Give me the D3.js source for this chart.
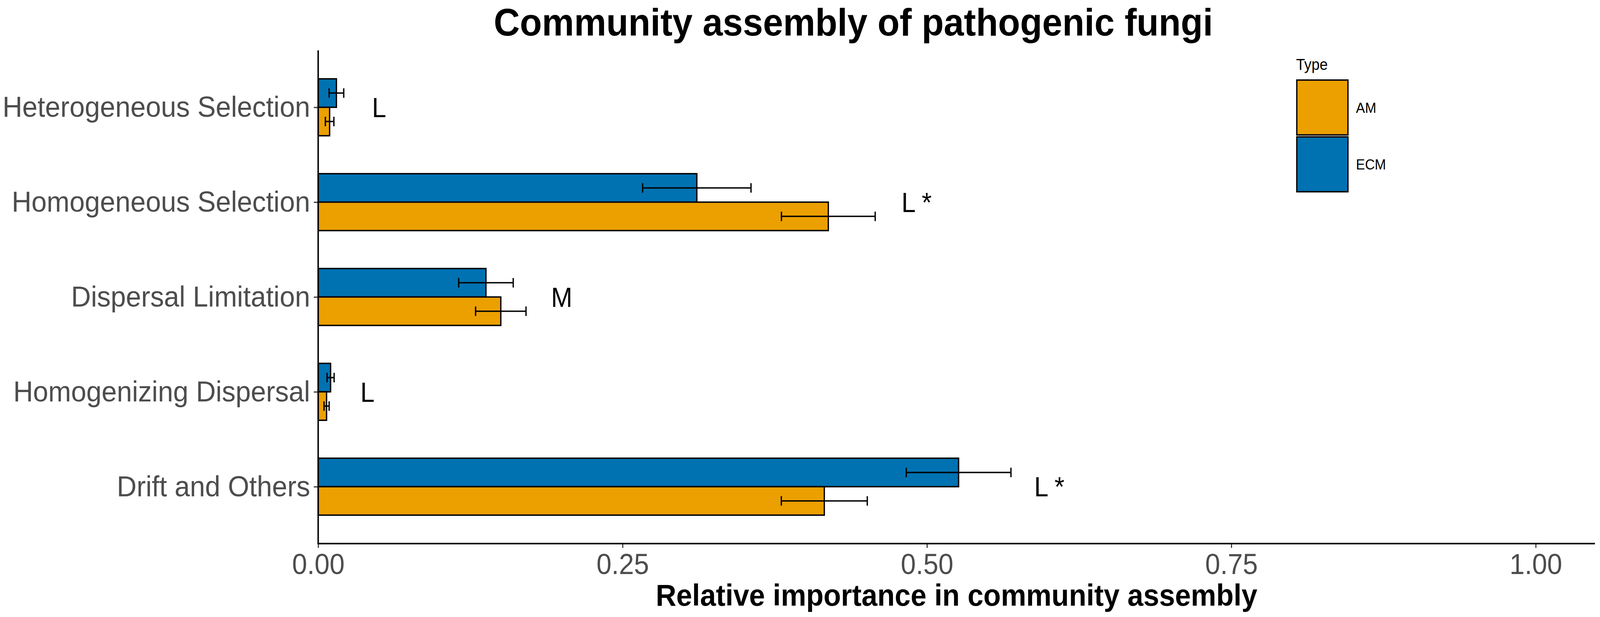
<!DOCTYPE html>
<html>
<head>
<meta charset="utf-8">
<script src="https://cdn.jsdelivr.net/npm/d3@7/dist/d3.min.js"></script>
<style>
  html, body { margin: 0; padding: 0; background: #fff; overflow: hidden; width: 100%; height: 100%; }
  svg { display: block; width: 100vw; height: 100vh; font-family: "Liberation Sans", Arial, Helvetica, sans-serif; }
</style>
</head>
<body>
<svg id="chart" viewBox="0 0 4380 1580" preserveAspectRatio="none"></svg>
<script>
// ---- data ----
const categories = ["Heterogeneous Selection", "Homogeneous Selection", "Dispersal Limitation", "Homogenizing Dispersal", "Drift and Others"];
const types = ["AM", "ECM"];
const amMean = [0.0094, 0.419, 0.150, 0.0069, 0.4157];
const amErr  = [0.0035, 0.0385, 0.0207, 0.0021, 0.0353];
const ecmMean = [0.015, 0.311, 0.1378, 0.0102, 0.526];
const ecmErr  = [0.006, 0.0445, 0.0224, 0.0029, 0.043];
const sigLabels = ["L", "L *", "M", "L", "L *"];
const sigLabelX = [0.050, 0.4915, 0.200, 0.0405, 0.6005];
const xTicks = [0, 0.25, 0.5, 0.75, 1.0];
const xDomain = [0, 1.0486];

const colors = { AM: "#EBA000", ECM: "#0072B2" };

// ---- layout ----
const svg = d3.select("#chart");
const panel = { left: 871, right: 4366, top: 129, bottom: 1392 };

const x = d3.scaleLinear().domain(xDomain).range([panel.left, panel.right]);
const y = d3.scalePoint().domain(categories).range([panel.top, panel.bottom]).padding(0.6);
const step = y.step();
const barH = step * 0.3;

const rows = [];
categories.forEach((c, i) => {
  rows.push({ cat: c, type: "ECM", mean: ecmMean[i], err: ecmErr[i], off: -1 });
  rows.push({ cat: c, type: "AM", mean: amMean[i], err: amErr[i], off: 0 });
});

// bars
svg.append("g").selectAll("rect").data(rows).join("rect")
  .attr("x", x(0))
  .attr("y", d => y(d.cat) + d.off * barH)
  .attr("width", d => x(d.mean) - x(0))
  .attr("height", barH)
  .attr("fill", d => colors[d.type])
  .attr("stroke", "#000")
  .attr("stroke-width", 3.6);

// error bars
const eb = svg.append("g").attr("stroke", "#000").attr("stroke-width", 3.6).attr("fill", "none");
rows.forEach(d => {
  const cy = y(d.cat) + d.off * barH + barH / 2;
  const capH = step * 0.1;
  eb.append("line").attr("x1", x(d.mean - d.err)).attr("x2", x(d.mean + d.err)).attr("y1", cy).attr("y2", cy);
  eb.append("line").attr("x1", x(d.mean - d.err)).attr("x2", x(d.mean - d.err)).attr("y1", cy - capH / 2).attr("y2", cy + capH / 2);
  eb.append("line").attr("x1", x(d.mean + d.err)).attr("x2", x(d.mean + d.err)).attr("y1", cy - capH / 2).attr("y2", cy + capH / 2);
});

// significance labels
svg.append("g").selectAll("text").data(categories).join("text")
  .attr("x", (c, i) => x(sigLabelX[i]))
  .attr("y", c => y(c))
  .attr("dy", "0.36em")
  .attr("text-anchor", "middle")
  .attr("font-size", 70)
  .attr("fill", "#000")
  .text((c, i) => sigLabels[i]);

// x axis
const xAxis = svg.append("g")
  .attr("transform", `translate(0,${panel.bottom})`)
  .call(d3.axisBottom(x).tickValues(xTicks).tickFormat(d3.format(".2f")).tickSize(11).tickPadding(14));
xAxis.select(".domain").remove();
xAxis.selectAll(".tick line").attr("stroke", "#333").attr("stroke-width", 3);
xAxis.selectAll(".tick text").attr("font-size", 74).attr("fill", "#4D4D4D")
  .attr("font-family", '"Liberation Sans", Arial, sans-serif');

// y axis
const yAxis = svg.append("g")
  .attr("transform", `translate(${panel.left},0)`)
  .call(d3.axisLeft(y).tickSize(12).tickPadding(10));
yAxis.select(".domain").remove();
yAxis.selectAll(".tick line").attr("stroke", "#333").attr("stroke-width", 3);
yAxis.selectAll(".tick text").attr("font-size", 75).attr("fill", "#4D4D4D")
  .attr("font-family", '"Liberation Sans", Arial, sans-serif');

// axis lines
svg.append("line").attr("x1", panel.left).attr("x2", panel.left).attr("y1", panel.top).attr("y2", panel.bottom)
  .attr("stroke", "#000").attr("stroke-width", 4);
svg.append("line").attr("x1", panel.left - 2).attr("x2", panel.right).attr("y1", panel.bottom).attr("y2", panel.bottom)
  .attr("stroke", "#000").attr("stroke-width", 4);

// title
svg.append("text")
  .attr("x", 2336).attr("y", 91)
  .attr("text-anchor", "middle")
  .attr("font-size", 99).attr("font-weight", "bold").attr("fill", "#000")
  .text("Community assembly of pathogenic fungi");

// x axis title
svg.append("text")
  .attr("x", (panel.left + panel.right) / 2).attr("y", 1551)
  .attr("text-anchor", "middle")
  .attr("font-size", 78).attr("font-weight", "bold").attr("fill", "#000")
  .text("Relative importance in community assembly");

// legend
const lg = svg.append("g").attr("transform", "translate(3548,0)");
lg.append("text").attr("x", 0).attr("y", 179).attr("font-size", 40).attr("fill", "#000").text("Type");
const keyY = d3.scaleBand().domain(types).range([205, 491]).paddingInner(0.035);
lg.selectAll("rect").data(types).join("rect")
  .attr("x", 2).attr("y", d => keyY(d))
  .attr("width", 140).attr("height", keyY.bandwidth())
  .attr("fill", d => colors[d]).attr("stroke", "#000").attr("stroke-width", 3.6);
lg.selectAll("text.lab").data(types).join("text").attr("class", "lab")
  .attr("x", 164).attr("y", d => keyY(d) + keyY.bandwidth() / 2)
  .attr("dy", "0.36em")
  .attr("font-size", 37).attr("fill", "#000")
  .text(d => d);
</script>
</body>
</html>
